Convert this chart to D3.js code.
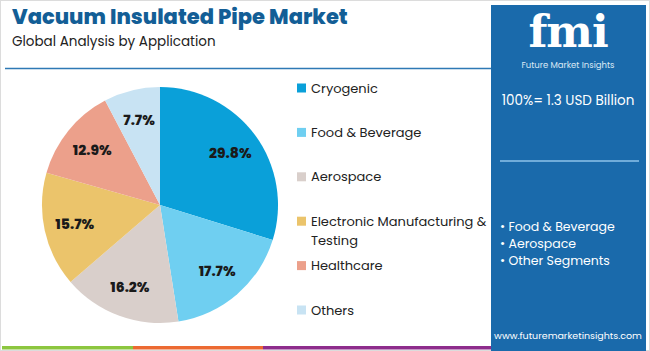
<!DOCTYPE html>
<html>
<head>
<meta charset="utf-8">
<script src="https://cdn.jsdelivr.net/npm/d3@7"></script>
<style>
  body { margin: 0; background: #fff; }
  svg { display: block; font-family: "Poppins", Inter, "Open Sans", sans-serif; }
</style>
</head>
<body>
<div id="chart"></div>
<script>
const categories = ["Cryogenic", "Food & Beverage", "Aerospace", "Electronic Manufacturing & Testing", "Healthcare", "Others"];
const legendLines = [["Cryogenic"], ["Food & Beverage"], ["Aerospace"], ["Electronic Manufacturing &", "Testing"], ["Healthcare"], ["Others"]];
const shares = [29.8, 17.7, 16.2, 15.7, 12.9, 7.7];
const colors = ["#0aa0d9", "#6fcff1", "#d9cfcb", "#ebc46b", "#eca08b", "#c8e3f3"];
const panelBullets = ["Food & Beverage", "Aerospace", "Other Segments"];
const totalLabel = "100%= 1.3 USD Billion";

const width = 650, height = 351;
const svg = d3.select("#chart").append("svg")
  .attr("width", width).attr("height", height);

// frame
svg.append("rect").attr("x", 0.5).attr("y", 0.5)
  .attr("width", width - 1).attr("height", height - 1)
  .attr("fill", "#fff").attr("stroke", "#dcdcdc");

// title
svg.append("text").attr("x", 12).attr("y", 24)
  .attr("font-size", 21).attr("font-weight", 800).attr("fill", "#135e96")
  .text("Vacuum Insulated Pipe Market");
svg.append("text").attr("x", 12).attr("y", 46)
  .attr("font-size", 13.5).attr("fill", "#222")
  .text("Global Analysis by Application");
svg.append("line").attr("x1", 5).attr("x2", 491).attr("y1", 68.5).attr("y2", 68.5)
  .attr("stroke", "#2e79b5").attr("stroke-width", 1.5);

// bottom stripes
const stripes = [["#8cc63f", 2, 133], ["#ec6a32", 133, 263], ["#8e2d8c", 263, 491]];
svg.selectAll(".stripe").data(stripes).join("rect")
  .attr("x", d => d[1]).attr("width", d => d[2] - d[1])
  .attr("y", 346).attr("height", 3.5).attr("fill", d => d[0]);

// pie
const cx = 160, cy = 205, r = 118;
const pie = d3.pie().sort(null).value(d => d)(shares);
const arc = d3.arc().innerRadius(0).outerRadius(r);
const labelArc = d3.arc().innerRadius(r * 0.74).outerRadius(r * 0.74);
const g = svg.append("g").attr("transform", `translate(${cx},${cy})`);
g.selectAll("path").data(pie).join("path")
  .attr("d", arc).attr("fill", (d, i) => colors[i]);
g.selectAll(".lbl").data(pie).join("text")
  .attr("class", "lbl")
  .attr("transform", d => `translate(${labelArc.centroid(d)})`)
  .attr("text-anchor", "middle").attr("dy", "0.35em")
  .attr("font-size", 14).attr("font-weight", 800).attr("fill", "#1a1a1a")
  .text(d => d.data.toFixed(1) + "%");

// legend
const legendY = d3.scalePoint().domain(categories).range([88, 310]);
const leg = svg.selectAll(".leg").data(categories).join("g")
  .attr("transform", d => `translate(297,${legendY(d)})`);
leg.append("rect").attr("x", 0).attr("y", -4.5).attr("width", 9).attr("height", 9)
  .attr("fill", (d, i) => colors[i]);
leg.append("text").attr("x", 14).attr("font-size", 13).attr("fill", "#222")
  .attr("dy", "0.35em")
  .selectAll("tspan").data((d, i) => legendLines[i]).join("tspan")
  .attr("x", 14).attr("dy", (d, j) => j === 0 ? null : 19)
  .text(d => d);

// right panel
const panel = svg.append("g");
panel.append("rect").attr("x", 491).attr("y", 5).attr("width", 155).attr("height", 346)
  .attr("fill", "#1a6aab");
panel.append("text").attr("x", 568).attr("y", 47).attr("text-anchor", "middle")
  .attr("font-size", 44).attr("font-weight", 700).attr("fill", "#fff")
  .attr("font-family", "'DejaVu Serif', serif").attr("letter-spacing", -1)
  .text("fmi");
panel.append("text").attr("x", 568).attr("y", 68).attr("text-anchor", "middle")
  .attr("font-size", 8.5).attr("fill", "#dbe9f5")
  .text("Future Market Insights");
panel.append("text").attr("x", 568).attr("y", 105).attr("text-anchor", "middle")
  .attr("font-size", 13.5).attr("fill", "#fff")
  .text(totalLabel);
panel.append("line").attr("x1", 500).attr("x2", 639).attr("y1", 161).attr("y2", 161)
  .attr("stroke", "#8ec3ea").attr("stroke-width", 1.5);
panel.selectAll(".bul").data(panelBullets).join("text")
  .attr("x", 500).attr("y", (d, i) => 231 + i * 17)
  .attr("font-size", 12.5).attr("fill", "#fff")
  .text(d => "\u2022 " + d);
panel.append("text").attr("x", 568).attr("y", 339).attr("text-anchor", "middle")
  .attr("font-size", 9.5).attr("fill", "#fff")
  .text("www.futuremarketinsights.com");
</script>
</body>
</html>
